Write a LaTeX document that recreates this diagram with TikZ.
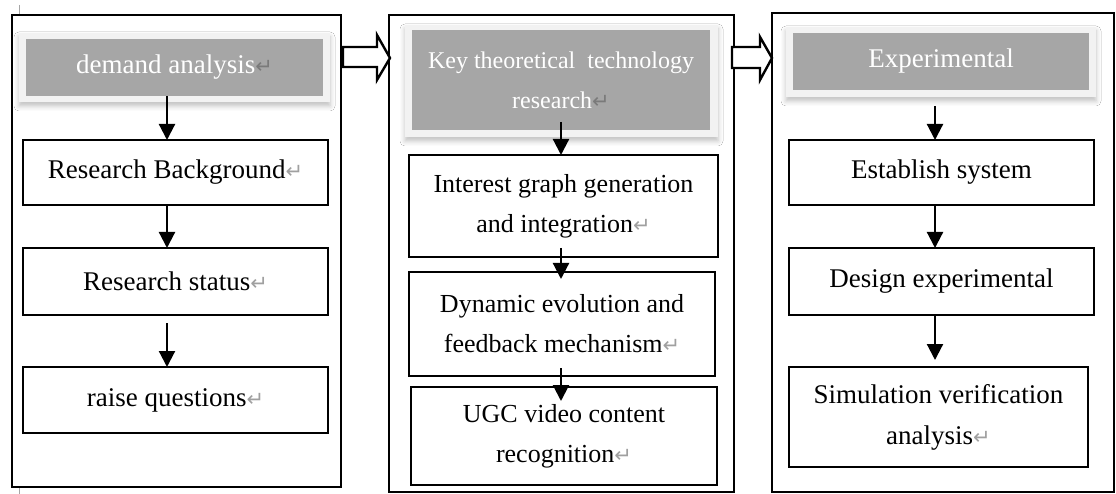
\documentclass[tikz,border=0pt]{standalone}
\usepackage{fontspec}
\setmainfont{Liberation Serif}
\newfontfamily\dejavu{DejaVu Sans}
\usetikzlibrary{arrows.meta,shadows.blur}
\definecolor{hgray}{HTML}{A6A6A6}
\definecolor{haloc}{HTML}{F2F2F2}
\definecolor{markc}{HTML}{A0A0A0}
\definecolor{markh}{HTML}{7A7A7A}
\newcommand\rmk{{\dejavu\fontsize{21}{21}\selectfont\textcolor{markc}{↵}}}
\newcommand\rmkh{{\dejavu\fontsize{21}{21}\selectfont\textcolor{markh}{↵}}}
\tikzset{
  frame/.style={draw, line width=2.4pt, fill=white, anchor=north west, outer sep=0pt, inner sep=0pt},
  box/.style={draw, line width=2.4pt, fill=white, anchor=north west, outer sep=0pt, inner sep=2pt, align=center, font=\fontsize{27}{41}\selectfont},
  mbox/.style={box, font=\fontsize{26}{40}\selectfont},
  hdr/.style={fill=hgray, anchor=north west, outer sep=0pt, inner sep=0pt, align=center, text=white, font=\fontsize{27}{41}\selectfont},
  halo/.style={fill=haloc, anchor=north west, outer sep=0pt, inner sep=0pt,
    blur shadow={shadow xshift=0pt, shadow yshift=-4pt, shadow blur radius=5pt, shadow opacity=25}},
  arr/.style={line width=2.2pt, -{Triangle[length=16pt,width=16pt]}},
  barrow/.style={draw, line width=2.4pt, fill=white, line join=miter},
  tick/.style={draw=gray!70, line width=1pt}
}
\begin{document}
\begin{tikzpicture}[x=1pt,y=-1pt]
\useasboundingbox (0,0) rectangle (1116,494);
\fill[white] (0,0) rectangle (1116,494);
% arrow columns
\coordinate (cl) at (167,0);
\coordinate (cm) at (561,0);
\coordinate (cr) at (935,0);
% tick marks
\draw[tick] (19,5) -- (19,15);
\draw[tick] (19,488) -- (19,494);
% frames
\node[frame, minimum width=329, minimum height=472] (f1) at (12,15) {};
\node[frame, minimum width=345, minimum height=477] (f2) at (389,15) {};
\node[frame, minimum width=342, minimum height=479] (f3) at (772,13) {};
% block arrows
\draw[barrow] (343,47) -- (377,47) -- (377,35) -- (390,58) -- (377,80) -- (377,67) -- (343,67) -- cycle;
\draw[barrow] (732,47) -- (760,47) -- (760,37) -- (772,58) -- (760,80) -- (760,68) -- (732,68) -- cycle;
% headers
\node[halo, minimum width=311, minimum height=69] (g1) at (19,33) {};
\node[hdr, minimum width=297, minimum height=57] (h1) at (26,39) {demand analysis\rmkh};
\node[halo, minimum width=313, minimum height=112] (g2) at (405,25) {};
\node[hdr, minimum width=298, minimum height=100, font=\fontsize{24}{40}\selectfont] (h2) at (412,30) {Key theoretical~ technology\\research\rmkh};
\node[halo, minimum width=310, minimum height=70] (g3) at (786,27) {};
\node[hdr, minimum width=296, minimum height=57] (h3) at (793,33) {Experimental};
% left column
\node[box, minimum width=305, minimum height=65] (rb) at (23,140) {Research Background\rmk};
\node[box, minimum width=305, minimum height=67] (rs) at (23,248) {Research status\rmk};
\node[box, minimum width=305, minimum height=66] (rq) at (23,367) {raise questions\rmk};
% middle column
\node[mbox, minimum width=309, minimum height=102] (ig) at (409,155) {Interest graph generation\\and integration\rmk};
\node[mbox, minimum width=306, minimum height=104] (dy) at (409,272) {Dynamic evolution and\\feedback mechanism\rmk};
\node[mbox, minimum width=306, minimum height=98] (ugc) at (411,387) {UGC video content\\recognition\rmk};
% right column
\node[box, minimum width=305, minimum height=65] (est) at (789,140) {Establish system};
\node[box, minimum width=305, minimum height=67] (des) at (789,248) {Design experimental};
\node[box, minimum width=299, minimum height=100] (sim) at (789,367) {Simulation verification\\analysis\rmk};
% arrows left
\draw[arr] (h1.south -| cl) -- (rb.north -| cl);
\draw[arr] (rb.south -| cl) -- (rs.north -| cl);
\draw[arr] ([yshift=-8pt]rs.south -| cl) -- (rq.north -| cl);
% arrows middle
\draw[arr] ([yshift=8pt]h2.south -| cm) -- (ig.north -| cm);
\draw[arr] ([yshift=9pt]ig.south -| cm) -- ([yshift=-7pt]dy.north -| cm);
\draw[arr] ([yshift=8pt]dy.south -| cm) -- ([yshift=-14pt]ugc.north -| cm);
% arrows right
\draw[arr] ([yshift=-16pt]h3.south -| cr) -- (est.north -| cr);
\draw[arr] (est.south -| cr) -- (des.north -| cr);
\draw[arr] (des.south -| cr) -- ([yshift=7pt]sim.north -| cr);
\end{tikzpicture}
\end{document}
